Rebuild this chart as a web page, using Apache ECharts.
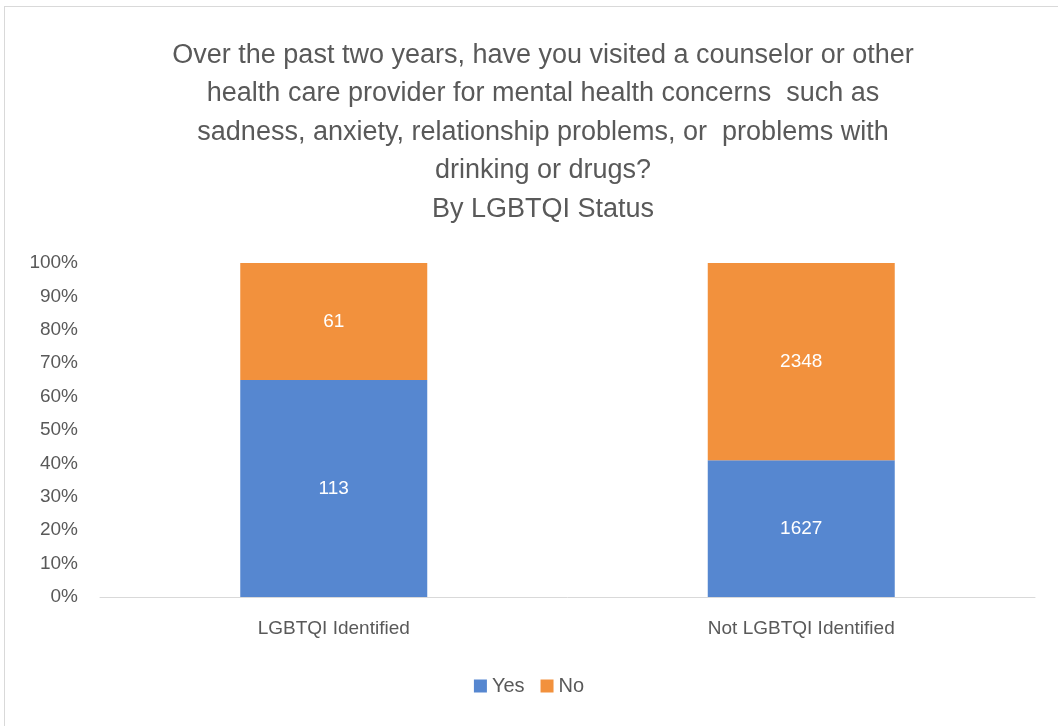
<!DOCTYPE html>
<html>
<head>
<meta charset="utf-8">
<script src="https://cdn.jsdelivr.net/npm/echarts@6/dist/echarts.min.js"></script>
<style>
  html, body { margin: 0; padding: 0; background: #fff; }
  #box { position: absolute; left: 4px; top: 6px; width: 1060px; height: 730px; border: 1px solid #d9d9d9; box-sizing: border-box; }
  #chart { position: absolute; left: 0; top: 0; width: 1058px; height: 726px; }
</style>
</head>
<body>
<div id="box"></div>
<div id="chart"></div>
<script>
var categories = ['LGBTQI Identified', 'Not LGBTQI Identified'];
var yesCounts = [113, 1627];
var noCounts = [61, 2348];
var yTicks = ['0%', '10%', '20%', '30%', '40%', '50%', '60%', '70%', '80%', '90%', '100%'];

var totals = yesCounts.map(function (v, i) { return v + noCounts[i]; });
function toShare(arr) {
    return arr.map(function (v, i) { return { value: v / totals[i] * 100, count: v }; });
}

var myChart = echarts.init(document.getElementById('chart'));
var textColor = '#595959';
var font = 'Liberation Sans';

var option = {
    title: {
        text: 'Over the past two years, have you visited a counselor or other\nhealth care provider for mental health concerns  such as\nsadness, anxiety, relationship problems, or  problems with\ndrinking or drugs?\nBy LGBTQI Status',
        left: 538,
        textAlign: 'center',
        top: 31,
        textStyle: {
            color: textColor,
            fontFamily: font,
            fontWeight: 'normal',
            fontSize: 27,
            lineHeight: 38.5
        }
    },
    legend: {
        bottom: 25,
        left: 'center',
        itemWidth: 13,
        itemHeight: 13,
        itemGap: 16,
        icon: 'rect',
        textStyle: { color: textColor, fontFamily: font, fontSize: 20 },
        data: ['Yes', 'No']
    },
    grid: {
        left: 100,
        right: 23,
        top: 263,
        bottom: 129
    },
    xAxis: {
        type: 'category',
        data: categories,
        axisLine: { lineStyle: { color: '#d9d9d9', width: 1 } },
        axisTick: { show: false },
        axisLabel: { color: textColor, fontFamily: font, fontSize: 19, margin: 22 }
    },
    yAxis: {
        type: 'value',
        min: 0,
        max: 100,
        interval: 10,
        splitLine: { show: false },
        axisLine: { show: false },
        axisTick: { show: false },
        axisLabel: {
            color: textColor,
            fontFamily: font,
            fontSize: 19,
            margin: 22,
            formatter: function (v) { return yTicks[Math.round(v / 10)]; }
        }
    },
    series: [
        {
            name: 'Yes',
            type: 'bar',
            stack: 'total',
            barWidth: '40%',
            itemStyle: { color: '#5687d0' },
            label: {
                show: true,
                color: '#fff',
                fontFamily: font,
                fontSize: 19,
                formatter: function (p) { return p.data.count; }
            },
            data: toShare(yesCounts)
        },
        {
            name: 'No',
            type: 'bar',
            stack: 'total',
            barWidth: '40%',
            itemStyle: { color: '#f2913d' },
            label: {
                show: true,
                color: '#fff',
                fontFamily: font,
                fontSize: 19,
                formatter: function (p) { return p.data.count; }
            },
            data: toShare(noCounts)
        }
    ]
};
myChart.setOption(option);
window.addEventListener('resize', function () {
    myChart.resize();
});
</script>
</body>
</html>
